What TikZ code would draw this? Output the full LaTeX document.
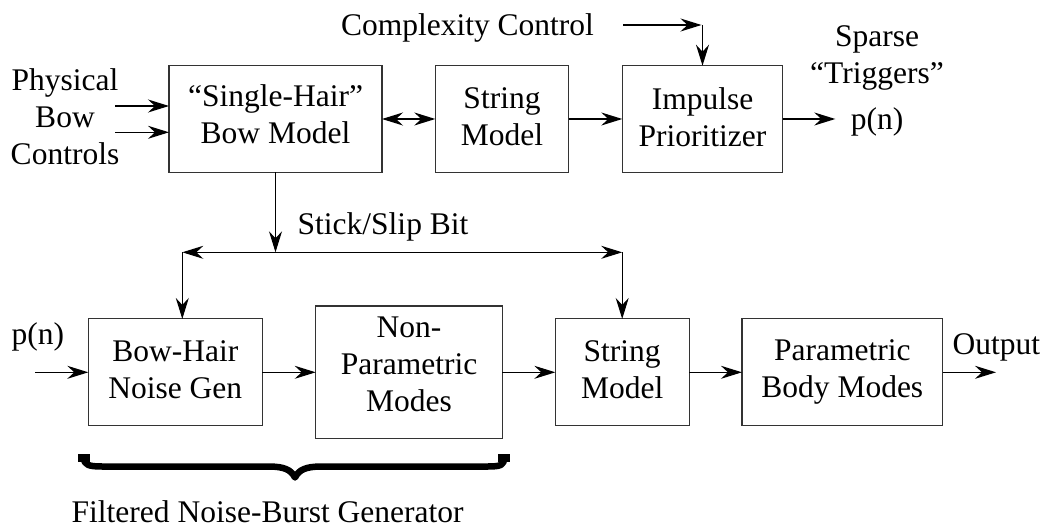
\documentclass[tikz,border=0pt]{standalone}
\usepackage{fontspec}
\setmainfont{Liberation Serif}
\usetikzlibrary{arrows.meta,calc}
\tikzset{
  tip/.tip={Stealth[length=21pt,width=13pt,inset=7pt]},
  blk/.style={draw=black!80, line width=1.1pt, inner sep=0pt, outer sep=0pt, align=center},
  conn/.style={line width=1.1pt, -tip},
  dconn/.style={line width=1.1pt, tip-tip},
  txt/.style={inner sep=0pt, outer sep=0pt, align=center}
}
\begin{document}
\begin{tikzpicture}[x=1pt,y=-1pt,font=\fontsize{31.5}{37}\selectfont]
\useasboundingbox (0,0) rectangle (1044,529);

% top row boxes
\node[blk, minimum width=213pt, minimum height=106.6pt, text depth=10pt] (bow) at (275.5,119) {“Single-Hair”\\Bow Model};
\node[blk, minimum width=133.4pt, minimum height=106.6pt, text depth=5pt] (str1) at (502,119) {String\\Model};
\node[blk, minimum width=160.4pt, minimum height=106.6pt, text depth=4pt] (imp) at (702.5,119) {Impulse\\Prioritizer};

% bottom row boxes
\node[blk, minimum width=174pt, minimum height=106.7pt, text depth=6pt] (hair) at (175.3,372.3) {Bow-Hair\\Noise Gen};
\node[blk, minimum width=186.6pt, minimum height=132.6pt, text depth=16pt] (npm) at (409,372.3) {Non-\\Parametric\\Modes};
\node[blk, minimum width=133.7pt, minimum height=106.7pt, text depth=5pt] (str2) at (622.2,372.3) {String\\Model};
\node[blk, minimum width=200.7pt, minimum height=106.7pt] (body) at (842.3,372.3) {Parametric\\Body Modes};

% texts
\node[txt] (phys) at (65,116.3) {Physical\\Bow\\Controls};
\node[txt, anchor=base] (cc) at (467.5,36) {Complexity Control};
\node[txt] (sparse) at (877,57.8) {Sparse\\“Triggers”};
\node[txt, anchor=base] (pn1) at (877,130) {p(n)};
\node[txt, anchor=base west] (ssb) at (297.7,234.3) {Stick/Slip Bit};
\node[txt, anchor=base west] (pn2) at (11.7,344) {p(n)};
\node[txt, anchor=base west] (out) at (952.7,354) {Output};
\node[txt, anchor=base west] (fnb) at (71.7,522) {Filtered Noise-Burst Generator};

% coordinates
\coordinate (ph1) at (115,106);
\coordinate (ph2) at (115,132.3);
\coordinate (cc1) at (623,25);
\coordinate (cc2) at (702.5,25);
\coordinate (pout) at (835.3,119);
\coordinate (ssM) at (275.5,252.3);
\coordinate (ssL) at (182.3,252.3);
\coordinate (ssR) at (622.2,252.3);
\coordinate (pin) at (35,372.3);
\coordinate (oend) at (996,372.3);

% top connectors
\draw[conn] (ph1) -- (ph1 -| bow.west);
\draw[conn] (ph2) -- (ph2 -| bow.west);
\draw[dconn] (bow.east) -- (str1.west);
\draw[conn] (str1.east) -- (imp.west);
\draw[conn] (imp.east) -- (pout);
\draw[conn] (cc1) -- ($(cc2)+(-1,0)$);
\draw[conn] (cc2) -- (imp.north);

% stick/slip distribution
\draw[conn] (bow.south) -- (ssM);
\draw[conn] (ssM) -- (ssL);
\draw[conn] (ssM) -- (ssR);
\draw[conn] (ssL) -- (ssL |- hair.north);
\draw[conn] (ssR) -- (str2.north);

% bottom connectors
\draw[conn] (pin) -- (hair.west);
\draw[conn] (hair.east) -- (hair.east -| npm.west);
\draw[conn] (npm.east |- str2.west) -- (str2.west);
\draw[conn] (str2.east) -- (body.west);
\draw[conn] (body.east) -- (oend);

% brace
\draw[line width=6.5pt, line join=round, line cap=butt]
  (84,454) -- (84,458) .. controls (84,465) and (89,466.5) .. (102,466.5)
  -- (268,466.5) .. controls (285,466.5) and (291,470) .. (295,477.5)
  .. controls (299,470) and (305,466.5) .. (322,466.5)
  -- (488,466.5) .. controls (501,466.5) and (504,465) .. (504,458) -- (504,454);
\fill (78,454) rectangle (90,462);
\fill (498,454) rectangle (510,462);
\end{tikzpicture}
\end{document}
